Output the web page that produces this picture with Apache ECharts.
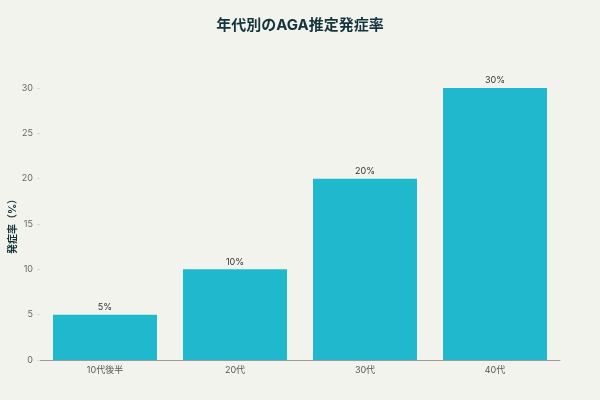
<!DOCTYPE html>
<html>
<head>
<meta charset="utf-8">
<script src="https://cdn.jsdelivr.net/npm/echarts@6/dist/echarts.min.js"></script>
<style>
  html, body { margin: 0; padding: 0; background: #F3F3EE; }
  #chart { width: 600px; height: 400px; }
</style>
</head>
<body>
<div id="chart"></div>
<script>
// --- data ---
const categories = ["10代後半", "20代", "30代", "40代"];
const rates = [5, 10, 20, 30];
const yTicks = [0, 5, 10, 15, 20, 25, 30];

const FONT = 'Inter, "Noto Sans CJK JP", sans-serif';

const chart = echarts.init(document.getElementById("chart"), null, { renderer: "canvas" });

chart.setOption({
  backgroundColor: "#F3F3EE",
  animation: false,
  textStyle: { fontFamily: FONT },
  title: {
    text: "年代別のAGA推定発症率",
    left: "center",
    top: 13,
    textStyle: { fontSize: 15, fontWeight: "bold", color: "#13343B", fontFamily: FONT },
  },
  grid: { left: 40, right: 40, top: 88, bottom: 40, containLabel: false, outerBoundsMode: "none" },
  xAxis: {
    type: "category",
    data: categories,
    axisLine: { lineStyle: { color: "#9a9a9a", width: 1 } },
    axisTick: { show: false },
    axisLabel: { color: "#555", fontSize: 9, margin: 6 },
  },
  yAxis: {
    type: "value",
    min: yTicks[0],
    max: yTicks[yTicks.length - 1],
    interval: 5,
    name: "発症率（%）",
    nameLocation: "middle",
    nameGap: 22,
    nameMoveOverlap: false,
    nameTextStyle: { fontSize: 10, fontWeight: "bold", color: "#13343B" },
    axisLine: { show: false },
    axisTick: { show: true, length: 3, lineStyle: { color: "#dcdcd6" } },
    splitLine: { show: false },
    axisLabel: { color: "#666", fontSize: 9, margin: 7 },
  },
  series: [{
    type: "bar",
    data: rates,
    barCategoryGap: "20%",
    itemStyle: { color: "#1FB8CD" },
    label: {
      show: true,
      position: "top",
      distance: 3,
      formatter: (p) => p.value + "%",
      color: "#333",
      fontSize: 9,
    },
  }],
});
</script>
</body>
</html>
